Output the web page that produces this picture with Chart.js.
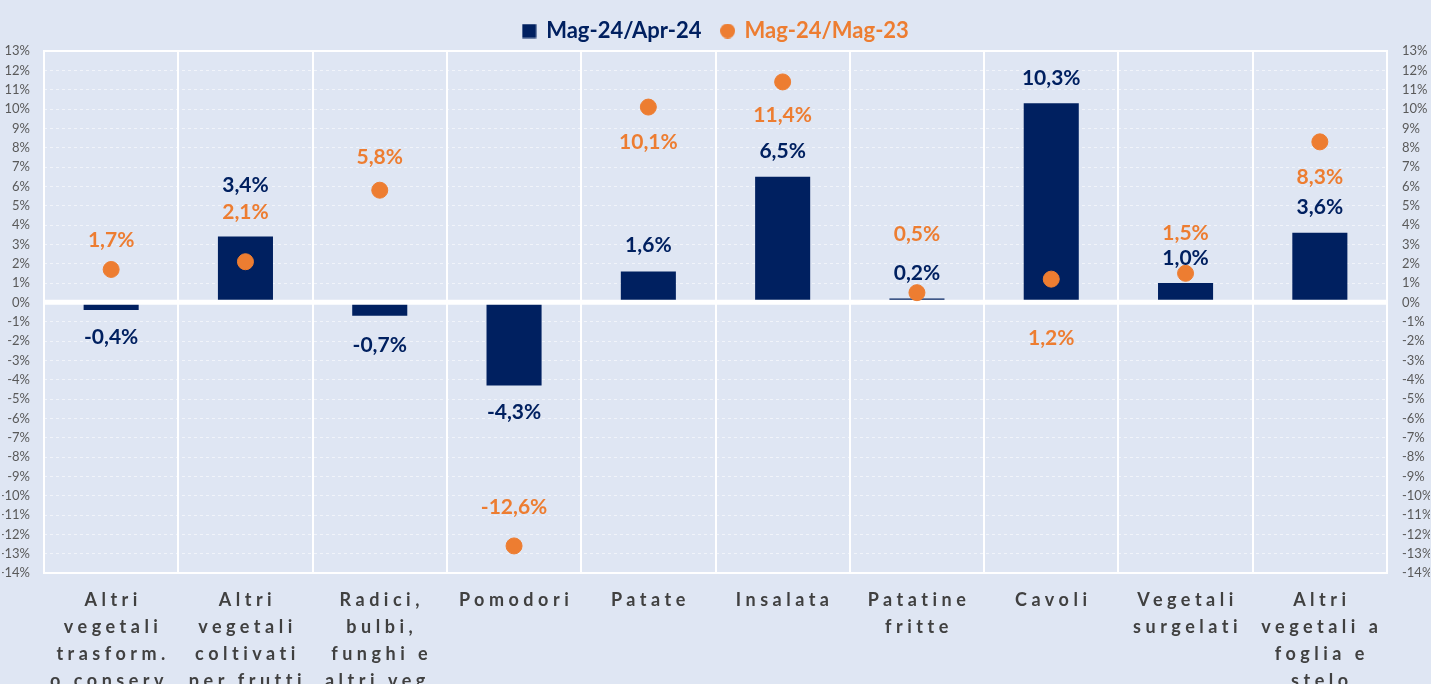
<!DOCTYPE html>
<html>
<head>
<meta charset="utf-8">
<script src="https://cdn.jsdelivr.net/npm/chart.js@4"></script>
<style>
  html, body { margin: 0; padding: 0; background: #dfe6f3; }
  #wrap { width: 1431px; height: 684px; }
</style>
</head>
<body>
<div id="wrap"><canvas id="c" width="1431" height="684"></canvas></div>
<script>
const categories = [
  ["Altri", "vegetali", "trasform.", "o conserv."],
  ["Altri", "vegetali", "coltivati", "per frutti"],
  ["Radici,", "bulbi,", "funghi e", "altri veg."],
  ["Pomodori"],
  ["Patate"],
  ["Insalata"],
  ["Patatine", "fritte"],
  ["Cavoli"],
  ["Vegetali", "surgelati"],
  ["Altri", "vegetali a", "foglia e", "stelo"]
];
const monthOnMonth = [-0.4, 3.4, -0.7, -4.3, 1.6, 6.5, 0.2, 10.3, 1.0, 3.6];
const yearOnYear = [1.7, 2.1, 5.8, -12.6, 10.1, 11.4, 0.5, 1.2, 1.5, 8.3];
const seriesNames = ["Mag-24/Apr-24", "Mag-24/Mag-23"];
const yMin = -14, yMax = 13;

// label nudges in px (negative = above the mark)
const barLabelShift = [27, -51, 29, 27, -26, -25, -25, -25, -25, -25];
const dotLabelShift = [-29, -49, -33, -39, 35, 33, -58, 59, -40, 35];

const NAVY = "#002060";
const ORANGE = "#ed7d31";
const FONT = "Lato, 'Open Sans', sans-serif";

const fmt = v => v.toFixed(1).replace(".", ",") + "%";

function marker(shape, color) {
  const c = document.createElement("canvas");
  c.width = 15;
  c.height = 15;
  const g = c.getContext("2d");
  g.fillStyle = color;
  if (shape === "rect") {
    g.fillRect(0.5, 0.5, 14, 14);
  } else {
    g.beginPath();
    g.arc(7.5, 7.5, 7.5, 0, Math.PI * 2);
    g.fill();
  }
  return c;
}
const legendMarkers = [marker("rect", NAVY), marker("circle", ORANGE)];

const extras = {
  id: "extras",
  afterInit(chart) {
    const leg = chart.legend;
    const fit = leg.fit;
    leg.fit = function () {
      fit.call(this);
      this.height = 51;
    };
  },
  afterDatasetDraw(chart, args) {
    if (args.index !== 0) return;
    const { ctx, chartArea } = chart;
    const y0 = chart.scales.y.getPixelForValue(0);
    ctx.save();
    ctx.strokeStyle = "#ffffff";
    ctx.lineWidth = 5;
    ctx.beginPath();
    ctx.moveTo(chartArea.left, y0);
    ctx.lineTo(chartArea.right, y0);
    ctx.stroke();
    ctx.restore();
  },
  afterDraw(chart) {
    const { ctx, chartArea } = chart;
    const x = chart.scales.x;
    ctx.save();
    ctx.strokeStyle = "#ffffff";
    ctx.lineWidth = 2;
    ctx.strokeRect(chartArea.left, chartArea.top, chartArea.right - chartArea.left, chartArea.bottom - chartArea.top);

    ctx.font = "bold 21px " + FONT;
    ctx.textAlign = "center";
    ctx.textBaseline = "middle";
    chart.getDatasetMeta(0).data.forEach((el, i) => {
      const v = monthOnMonth[i];
      const edge = v >= 0 ? Math.min(el.y, el.base) : Math.max(el.y, el.base);
      ctx.fillStyle = NAVY;
      ctx.fillText(fmt(v), el.x, edge + barLabelShift[i]);
    });
    chart.getDatasetMeta(1).data.forEach((el, i) => {
      ctx.fillStyle = ORANGE;
      ctx.fillText(fmt(yearOnYear[i]), el.x, el.y + dotLabelShift[i]);
    });

    ctx.font = "bold 18px " + FONT;
    ctx.fillStyle = "#404040";
    ctx.letterSpacing = "4.5px";
    categories.forEach((lines, i) => {
      const cx = x.getPixelForValue(i) + 2;
      lines.forEach((ln, j) => {
        ctx.fillText(ln, cx, chartArea.bottom + 27 + j * 27);
      });
    });
    ctx.restore();
  }
};

new Chart(document.getElementById("c"), {
  data: {
    labels: categories.map(c => c.join(" ")),
    datasets: [
      {
        type: "bar",
        label: seriesNames[0],
        data: monthOnMonth,
        backgroundColor: NAVY,
        categoryPercentage: 1,
        barPercentage: 0.41,
        order: 1
      },
      {
        type: "line",
        label: seriesNames[1],
        data: yearOnYear,
        showLine: false,
        pointRadius: 8,
        pointHoverRadius: 8,
        pointBackgroundColor: ORANGE,
        pointBorderColor: ORANGE,
        backgroundColor: ORANGE,
        borderColor: ORANGE,
        order: 0
      }
    ]
  },
  options: {
    responsive: false,
    animation: false,
    layout: { padding: { left: 2, right: 1, top: 0, bottom: 111 } },
    plugins: {
      tooltip: { enabled: false },
      legend: {
        position: "top",
        labels: {
          font: { family: FONT, size: 22, weight: "bold" },
          boxWidth: 12,
          boxHeight: 15,
          padding: 20,
          usePointStyle: true,
          generateLabels(chart) {
            return chart.data.datasets.map((ds, i) => ({
              text: ds.label,
              fillStyle: i === 0 ? NAVY : ORANGE,
              strokeStyle: i === 0 ? NAVY : ORANGE,
              fontColor: i === 0 ? NAVY : ORANGE,
              lineWidth: 0,
              pointStyle: legendMarkers[i],
              datasetIndex: i,
              hidden: false
            }));
          }
        }
      }
    },
    scales: {
      x: {
        offset: true,
        grid: { offset: true, color: "#ffffff", lineWidth: 2, drawTicks: false },
        border: { display: false },
        ticks: { display: false }
      },
      y: {
        position: "left",
        min: yMin,
        max: yMax,
        afterFit(s) { s.width = 42; },
        grid: { color: "rgba(255,255,255,0.55)", lineWidth: 1, drawTicks: false },
        border: { display: false, dash: [3, 3] },
        ticks: {
          stepSize: 1,
          padding: 14,
          color: "#595959",
          font: { family: FONT, size: 13 },
          callback: v => v + "%"
        }
      },
      y2: {
        position: "right",
        min: yMin,
        max: yMax,
        afterFit(s) { s.width = 43; },
        grid: { display: false, drawTicks: false },
        border: { display: false },
        ticks: {
          stepSize: 1,
          padding: 15,
          color: "#595959",
          font: { family: FONT, size: 13 },
          callback: v => v + "%"
        }
      }
    }
  },
  plugins: [extras]
});
</script>
</body>
</html>
